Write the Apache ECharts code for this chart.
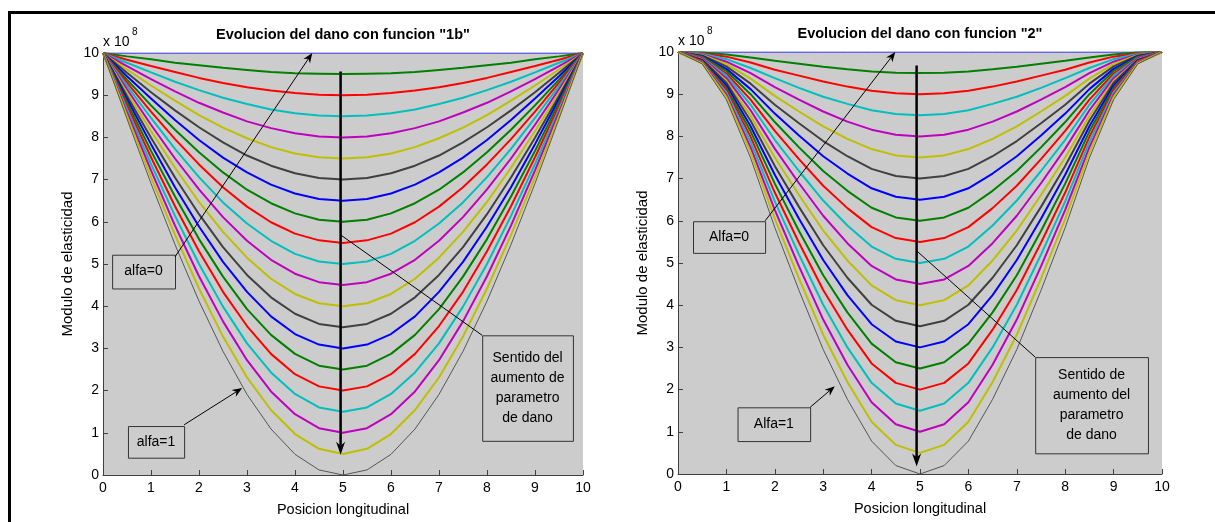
<!DOCTYPE html>
<html><head><meta charset="utf-8">
<script src="https://cdn.jsdelivr.net/npm/echarts/dist/echarts.min.js"></script>
<style>html,body{margin:0;padding:0;background:#fff;}#c{width:1215px;height:522px;}</style>
</head><body><div id="c"></div>
<script>
// ---- data ----
const xPos = [0,0.5,1,1.5,2,2.5,3,3.5,4,4.5,5,5.5,6,6.5,7,7.5,8,8.5,9,9.5,10];
const xTicks = [0,1,2,3,4,5,6,7,8,9,10];
const yTicks = [0,1,2,3,4,5,6,7,8,9,10];
const leftTitle = 'Evolucion del dano con funcion "1b"';
const rightTitle = 'Evolucion del dano con funcion "2"';
const xName = 'Posicion longitudinal';
const yName = 'Modulo de elasticidad';
const scaleLabel = 'x 10';
const scaleExp = '8';

const leftCurves = [
[10,10,10,10,10,10,10,10,10,10,10,10,10,10,10,10,10,10,10,10,10],
[10,9.92,9.85,9.77,9.71,9.65,9.60,9.55,9.52,9.51,9.5,9.51,9.52,9.55,9.60,9.65,9.71,9.77,9.85,9.92,10],
[10,9.84,9.69,9.55,9.41,9.29,9.19,9.11,9.05,9.01,9,9.01,9.05,9.11,9.19,9.29,9.41,9.55,9.69,9.84,10],
[10,9.77,9.54,9.32,9.12,8.94,8.79,8.66,8.57,8.52,8.5,8.52,8.57,8.66,8.79,8.94,9.12,9.32,9.54,9.77,10],
[10,9.69,9.38,9.09,8.82,8.59,8.38,8.22,8.10,8.02,8,8.02,8.10,8.22,8.38,8.59,8.82,9.09,9.38,9.69,10],
[10,9.61,9.23,8.87,8.53,8.23,7.98,7.77,7.62,7.53,7.5,7.53,7.62,7.77,7.98,8.23,8.53,8.87,9.23,9.61,10],
[10,9.53,9.07,8.64,8.24,7.88,7.57,7.33,7.15,7.04,7,7.04,7.15,7.33,7.57,7.88,8.24,8.64,9.07,9.53,10],
[10,9.45,8.92,8.41,7.94,7.52,7.17,6.88,6.67,6.54,6.5,6.54,6.67,6.88,7.17,7.52,7.94,8.41,8.92,9.45,10],
[10,9.37,8.76,8.18,7.65,7.17,6.76,6.44,6.20,6.05,6,6.05,6.20,6.44,6.76,7.17,7.65,8.18,8.76,9.37,10],
[10,9.30,8.61,7.96,7.36,6.82,6.36,5.99,5.72,5.56,5.5,5.56,5.72,5.99,6.36,6.82,7.36,7.96,8.61,9.30,10],
[10,9.22,8.46,7.73,7.06,6.46,5.96,5.55,5.24,5.06,5,5.06,5.24,5.55,5.96,6.46,7.06,7.73,8.46,9.22,10],
[10,9.14,8.30,7.50,6.77,6.11,5.55,5.10,4.77,4.57,4.5,4.57,4.77,5.10,5.55,6.11,6.77,7.50,8.30,9.14,10],
[10,9.06,8.15,7.28,6.47,5.76,5.15,4.65,4.29,4.07,4,4.07,4.29,4.65,5.15,5.76,6.47,7.28,8.15,9.06,10],
[10,8.98,7.99,7.05,6.18,5.40,4.74,4.21,3.82,3.58,3.5,3.58,3.82,4.21,4.74,5.40,6.18,7.05,7.99,8.98,10],
[10,8.91,7.84,6.82,5.89,5.05,4.34,3.76,3.34,3.09,3,3.09,3.34,3.76,4.34,5.05,5.89,6.82,7.84,8.91,10],
[10,8.83,7.68,6.60,5.59,4.70,3.93,3.32,2.87,2.59,2.5,2.59,2.87,3.32,3.93,4.70,5.59,6.60,7.68,8.83,10],
[10,8.75,7.53,6.37,5.30,4.34,3.53,2.87,2.39,2.10,2,2.10,2.39,2.87,3.53,4.34,5.30,6.37,7.53,8.75,10],
[10,8.67,7.37,6.14,5.00,3.99,3.12,2.43,1.92,1.60,1.5,1.60,1.92,2.43,3.12,3.99,5.00,6.14,7.37,8.67,10],
[10,8.59,7.22,5.91,4.71,3.64,2.72,1.98,1.44,1.11,1,1.11,1.44,1.98,2.72,3.64,4.71,5.91,7.22,8.59,10],
[10,8.51,7.06,5.69,4.42,3.28,2.31,1.54,0.97,0.62,0.5,0.62,0.97,1.54,2.31,3.28,4.42,5.69,7.06,8.51,10],
[10,8.44,6.91,5.46,4.12,2.93,1.91,1.09,0.49,0.12,0,0.12,0.49,1.09,1.91,2.93,4.12,5.46,6.91,8.44,10]
];

const rightCurves = [
[10,10,10,10,10,10,10,10,10,10,10,10,10,10,10,10,10,10,10,10,10],
[10,9.99,9.94,9.87,9.79,9.72,9.65,9.59,9.54,9.51,9.5,9.51,9.54,9.59,9.65,9.72,9.79,9.87,9.94,9.99,10],
[10,9.97,9.89,9.75,9.58,9.44,9.30,9.18,9.08,9.02,9,9.02,9.08,9.18,9.30,9.44,9.58,9.75,9.89,9.97,10],
[10,9.96,9.83,9.62,9.38,9.15,8.94,8.77,8.62,8.53,8.5,8.53,8.62,8.77,8.94,9.15,9.38,9.62,9.83,9.96,10],
[10,9.94,9.77,9.50,9.17,8.87,8.59,8.35,8.16,8.04,8,8.04,8.16,8.35,8.59,8.87,9.17,9.50,9.77,9.94,10],
[10,9.93,9.72,9.37,8.96,8.59,8.24,7.94,7.70,7.55,7.5,7.55,7.70,7.94,8.24,8.59,8.96,9.37,9.72,9.93,10],
[10,9.92,9.66,9.25,8.75,8.31,7.89,7.53,7.23,7.06,7,7.06,7.23,7.53,7.89,8.31,8.75,9.25,9.66,9.92,10],
[10,9.90,9.60,9.12,8.54,8.02,7.53,7.12,6.77,6.57,6.5,6.57,6.77,7.12,7.53,8.02,8.54,9.12,9.60,9.90,10],
[10,9.89,9.55,9.00,8.34,7.74,7.18,6.71,6.31,6.08,6,6.08,6.31,6.71,7.18,7.74,8.34,9.00,9.55,9.89,10],
[10,9.87,9.49,8.87,8.13,7.46,6.83,6.30,5.85,5.59,5.5,5.59,5.85,6.30,6.83,7.46,8.13,8.87,9.49,9.87,10],
[10,9.86,9.44,8.75,7.92,7.18,6.48,5.89,5.39,5.10,5,5.10,5.39,5.89,6.48,7.18,7.92,8.75,9.44,9.86,10],
[10,9.85,9.38,8.62,7.71,6.89,6.12,5.47,4.93,4.61,4.5,4.61,4.93,5.47,6.12,6.89,7.71,8.62,9.38,9.85,10],
[10,9.83,9.32,8.49,7.50,6.61,5.77,5.06,4.47,4.12,4,4.12,4.47,5.06,5.77,6.61,7.50,8.49,9.32,9.83,10],
[10,9.82,9.27,8.37,7.30,6.33,5.42,4.65,4.01,3.63,3.5,3.63,4.01,4.65,5.42,6.33,7.30,8.37,9.27,9.82,10],
[10,9.80,9.21,8.24,7.09,6.05,5.07,4.24,3.55,3.14,3,3.14,3.55,4.24,5.07,6.05,7.09,8.24,9.21,9.80,10],
[10,9.79,9.15,8.12,6.88,5.76,4.71,3.83,3.09,2.65,2.5,2.65,3.09,3.83,4.71,5.76,6.88,8.12,9.15,9.79,10],
[10,9.78,9.10,7.99,6.67,5.48,4.36,3.42,2.62,2.16,2,2.16,2.62,3.42,4.36,5.48,6.67,7.99,9.10,9.78,10],
[10,9.76,9.04,7.87,6.46,5.20,4.01,3.00,2.16,1.67,1.5,1.67,2.16,3.00,4.01,5.20,6.46,7.87,9.04,9.76,10],
[10,9.75,8.98,7.74,6.26,4.92,3.66,2.59,1.70,1.18,1,1.18,1.70,2.59,3.66,4.92,6.26,7.74,8.98,9.75,10],
[10,9.73,8.93,7.62,6.05,4.63,3.30,2.18,1.24,0.69,0.5,0.69,1.24,2.18,3.30,4.63,6.05,7.62,8.93,9.73,10],
[10,9.72,8.87,7.49,5.84,4.35,2.95,1.77,0.78,0.20,0,0.20,0.78,1.77,2.95,4.35,5.84,7.49,8.87,9.72,10]
];

// annotation texts
const leftLow = 'alfa=0', leftHigh = 'alfa=1';
const rightLow = 'Alfa=0', rightHigh = 'Alfa=1';
const leftNote = 'Sentido del\naumento de\nparametro\nde dano';
const rightNote = 'Sentido de\naumento del\nparametro\nde dano';

// ---- styling ----
const FONT = '"Liberation Sans", Arial, Helvetica, sans-serif';
const cycle = ['#0000ff','#008000','#ff0000','#00bfbf','#bf00bf','#bfbf00','#404040'];
const AX = '#404040';
const grids = [
  {left:103, top:53, width:480, height:424},
  {left:678, top:52, width:484, height:422}
];

function axisPair(i){
  return {
    x: {gridIndex:i, type:'value', min:0, max:10, interval:1,
      axisLine:{show:true, onZero:false, lineStyle:{color:AX, width:1}},
      axisTick:{show:true, inside:true, length:5, lineStyle:{color:AX}},
      axisLabel:{color:'#000', fontSize:14, fontFamily:FONT, margin:6,
        formatter:v=> xTicks.indexOf(v)>=0 ? String(v) : ''},
      splitLine:{show:false},
      name:xName, nameLocation:'middle', nameGap:27,
      nameTextStyle:{color:'#000', fontSize:14.5, fontFamily:FONT}},
    y: {gridIndex:i, type:'value', min:0, max:10, interval:1,
      axisLine:{show:true, onZero:false, lineStyle:{color:AX, width:1}},
      axisTick:{show:true, inside:true, length:5, lineStyle:{color:AX}},
      axisLabel:{color:'#000', fontSize:14, fontFamily:FONT, margin:4,
        formatter:v=> yTicks.indexOf(v)>=0 ? String(v) : ''},
      splitLine:{show:false},
      name:yName, nameLocation:'middle', nameGap:28,
      nameTextStyle:{color:'#000', fontSize:15, fontFamily:FONT}}
  };
}
const a0 = axisPair(0), a1 = axisPair(1);

const series = [];
[leftCurves, rightCurves].forEach((curves, gi)=>{
  curves.forEach((vals, k)=>{
    series.push({
      type:'line', xAxisIndex:gi, yAxisIndex:gi, silent:true,
      showSymbol:false, symbol:'none', animation:false,
      data: xPos.map((x,j)=>[x, vals[j]]),
      lineStyle:{color: k===curves.length-1 ? '#555555' : cycle[k % cycle.length],
                 width: (k===0 || k===curves.length-1) ? 1 : 2},
      z: 2
    });
  });
});

const chart = echarts.init(document.getElementById('c'), null, {renderer:'canvas'});
chart.setOption({
  animation:false,
  backgroundColor:'#ffffff',
  grid: grids.map(g=>Object.assign({show:true, backgroundColor:'#cccccc', borderWidth:0, containLabel:false}, g)),
  xAxis:[a0.x, a1.x],
  yAxis:[a0.y, a1.y],
  series: series
});

// ---- annotations (data coordinates) ----
const notes = [
  {gi:0, title:leftTitle, titleX:5.0,
   lowBox:[0.19,5.22,1.50,4.42], lowText:leftLow, lowArrow:[[1.50,5.17],[4.36,10.0]],
   highBox:[0.52,1.16,1.69,0.41], highText:leftHigh, highArrow:[[1.69,1.19],[2.90,2.06]],
   vArrow:[[4.95,9.56],[4.95,0.48]], link:[[4.95,5.69],[7.90,3.31]],
   noteBox:[7.90,3.31,9.79,0.81], noteText:leftNote},
  {gi:1, title:rightTitle, titleX:5.0,
   lowBox:[0.31,5.99,1.80,5.24], lowText:rightLow, lowArrow:[[1.80,6.00],[4.49,10.0]],
   highBox:[1.23,1.58,2.73,0.78], highText:rightHigh, highArrow:[[2.73,1.58],[3.24,2.08]],
   vArrow:[[4.93,9.68],[4.93,0.18]], link:[[4.93,5.29],[7.38,2.77]],
   noteBox:[7.38,2.77,9.71,0.49], noteText:rightNote}
];

const G = [];
function P(gi, p){ return chart.convertToPixel({gridIndex:gi}, p); }
function arrow(p1, p2, lw, hl, hw){
  const dx=p2[0]-p1[0], dy=p2[1]-p1[1], L=Math.hypot(dx,dy), ux=dx/L, uy=dy/L;
  const bx=p2[0]-ux*hl, by=p2[1]-uy*hl, nx=-uy, ny=ux;
  const mx=p2[0]-ux*hl*0.7, my=p2[1]-uy*hl*0.7;
  G.push({type:'line', z:50, silent:true, shape:{x1:p1[0],y1:p1[1],x2:mx,y2:my}, style:{stroke:'#000', lineWidth:lw}});
  G.push({type:'polygon', z:51, silent:true, shape:{points:[[p2[0],p2[1]],[bx+nx*hw,by+ny*hw],[mx,my],[bx-nx*hw,by-ny*hw]]}, style:{fill:'#000'}});
}
function box(gi, b, text, lh){
  const p1=P(gi,[b[0],b[1]]), p2=P(gi,[b[2],b[3]]);
  G.push({type:'rect', z:50, silent:true, shape:{x:p1[0]+0.5,y:p1[1]+0.5,width:p2[0]-p1[0],height:p2[1]-p1[1]}, style:{fill:'none', stroke:'#333', lineWidth:1}});
  G.push({type:'text', z:52, silent:true, style:{text:text, x:(p1[0]+p2[0])/2, y:(p1[1]+p2[1])/2, align:'center', verticalAlign:'middle', font:'14px '+FONT, fill:'#000', lineHeight:lh||16}});
}

notes.forEach(n=>{
  const gi=n.gi, g=grids[gi];
  const top = P(gi,[n.titleX,10]);
  G.push({type:'text', z:52, silent:true, style:{text:n.title, x:top[0], y:g.top-18, align:'center', verticalAlign:'middle', font:'bold 14.5px '+FONT, fill:'#000'}});
  const org = P(gi,[0,10]);
  G.push({type:'text', z:52, silent:true, style:{text:scaleLabel, x:org[0], y:org[1]-11, align:'left', verticalAlign:'middle', font:'14px '+FONT, fill:'#000'}});
  G.push({type:'text', z:52, silent:true, style:{text:scaleExp, x:org[0]+29, y:org[1]-21, align:'left', verticalAlign:'middle', font:'10px '+FONT, fill:'#000'}});
  box(gi, n.lowBox, n.lowText);
  box(gi, n.highBox, n.highText);
  box(gi, n.noteBox, n.noteText, 20);
  arrow(P(gi,n.lowArrow[0]), P(gi,n.lowArrow[1]), 1, 10, 4);
  arrow(P(gi,n.highArrow[0]), P(gi,n.highArrow[1]), 1, 10, 4);
  const l1=P(gi,n.link[0]), l2=P(gi,n.link[1]);
  G.push({type:'line', z:50, silent:true, shape:{x1:l1[0],y1:l1[1],x2:l2[0],y2:l2[1]}, style:{stroke:'#000', lineWidth:1}});
  arrow(P(gi,n.vArrow[0]), P(gi,n.vArrow[1]), 2.5, 13, 4.5);
});
// frame lines (top and left)
G.push({type:'rect', z:60, silent:true, shape:{x:8, y:11, width:1207, height:3}, style:{fill:'#000'}});
G.push({type:'rect', z:60, silent:true, shape:{x:8, y:11, width:3, height:511}, style:{fill:'#000'}});

chart.setOption({graphic:{elements:G}});
</script>
</body></html>
